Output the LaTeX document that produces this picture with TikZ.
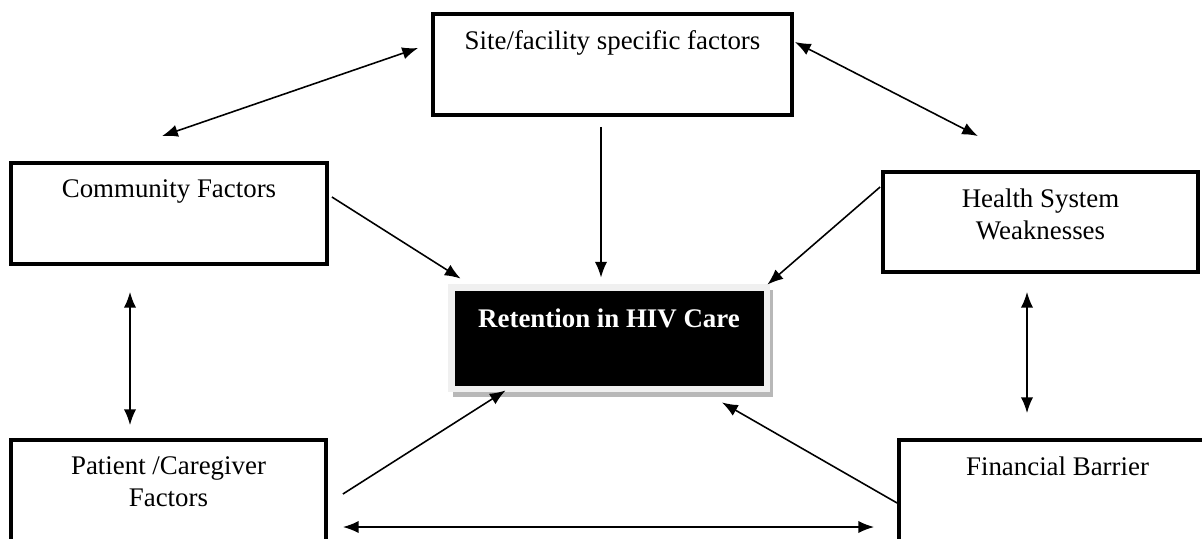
\documentclass[tikz,border=0pt]{standalone}
\usepackage{fontspec}
\setmainfont{Liberation Serif}
\usetikzlibrary{positioning, arrows.meta, calc, backgrounds}

\begin{document}
\begin{tikzpicture}[
    x=0.02cm, y=-0.02cm,
    box/.style={draw=black, line width=2.2pt, fill=white, inner sep=0pt},
    boxtext/.style={anchor=north, yshift=-0.25cm, align=center, font=\fontsize{15.3}{18.2}\selectfont},
    darkbox/.style={draw=black, fill=black, line width=0.5pt, inner sep=0pt},
    arrow/.style={-{Latex[length=9pt, width=7pt]}, line width=0.9pt, draw=black},
    twoway/.style={{Latex[length=9pt, width=7pt]}-{Latex[length=9pt, width=7pt]}, line width=0.9pt, draw=black}
]
\clip (0,0) rectangle (1202,538);

% Factor boxes
\node[box, minimum width=7.18cm, minimum height=2.02cm,
    label={[boxtext]north:Site/facility specific factors}] (site) at (612.5,64.5) {};
\node[box, minimum width=6.32cm, minimum height=2.02cm,
    label={[boxtext]north:Community Factors}] (comm) at (169,213.5) {};
\node[box, minimum width=6.30cm, minimum height=2.00cm,
    label={[boxtext]north:{Health System\\Weaknesses}}] (health) at (1040.5,222) {};
\node[box, minimum width=6.30cm, minimum height=2.40cm,
    label={[boxtext]north:{Patient /Caregiver\\Factors}}] (patient) at (168.5,500) {};
\node[box, minimum width=6.62cm, minimum height=2.40cm,
    label={[boxtext, xshift=-0.14cm]north:Financial Barrier}] (fin) at (1064.5,500) {};

% Outcome box with shadow
\node[darkbox, minimum width=6.16cm, minimum height=1.88cm,
    label={[boxtext, text=white, font=\bfseries\fontsize{15.3}{18.2}\selectfont]north:Retention in HIV Care}] (ret) at (609,338) {};
\begin{scope}[on background layer]
    \fill[black!28] ($(ret.north west)+(-2,-1)$) rectangle ($(ret.south east)+(10,12)$);
    \fill[black!6] ($(ret.north west)+(-7,-7)$) rectangle ($(ret.south east)+(7,7)$);
\end{scope}

% Links between factors
\draw[twoway] ($(site.west)+(-13,-16.5)$) -- ($(comm.north)+(-7,-25)$);
\draw[twoway] ($(site.east)+(1,-22.5)$) -- ($(health.north)+(-62.5,-34)$);
\draw[twoway] ($(comm.south)+(-39,26)$) -- ($(patient.north)+(-38.5,-13)$);
\draw[twoway] ($(health.south)+(-13.5,18)$) -- ($(fin.north)+(-37.5,-25)$);
\draw[twoway] ($(patient.east)+(15,27)$) -- ($(fin.west)+(-23,27)$);

% Links into retention
\draw[arrow] ($(site.south)+(-11.5,10)$) -- ($(ret.north)+(-8,-13)$);
\draw[arrow] ($(comm.east)+(3,-16.5)$) -- ($(ret.north west)+(6,-12)$);
\draw[arrow] ($(health.west)+(-1,-35)$) -- ($(ret.north east)+(4,-6)$);
\draw[arrow] ($(patient.east)+(15,-6)$) -- ($(ret.south west)+(51,5)$);
\draw[arrow] ($(fin.west)+(0,3)$) -- ($(ret.south)+(113,17)$);

\end{tikzpicture}
\end{document}
